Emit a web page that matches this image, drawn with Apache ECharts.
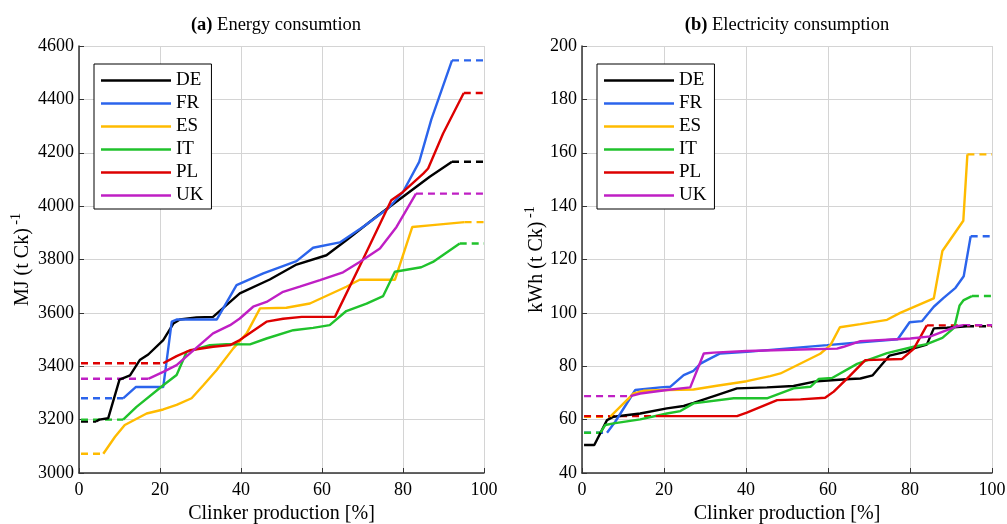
<!DOCTYPE html>
<html>
<head>
<meta charset="utf-8">
<script src="https://cdn.jsdelivr.net/npm/echarts@6/dist/echarts.min.js"></script>
<style>
  html, body { margin: 0; padding: 0; background: #fff; }
  #chart { width: 1007px; height: 524px; }
</style>
</head>
<body>
<div id="chart"></div>
<script>
// countries, in legend order
const countries = ['DE', 'FR', 'ES', 'IT', 'PL', 'UK'];
const colors = ['#000000', '#2b64ec', '#ffbb00', '#20c22c', '#dd0000', '#bf1fc4'];

// x ticks / y ticks
const xTicks = [0, 20, 40, 60, 80, 100];
const energyTicks = [3000, 4600, 200];
const elecTicks = [40, 200, 20];

// (a) energy consumption [MJ (t Ck)-1] vs cumulative clinker production [%]
// solid part of each curve; dashed lead/tail are drawn at the first/last value
const energyDE = [[4.2, 3193], [5, 3200], [7.2, 3205], [10, 3350], [12.6, 3366], [15, 3423], [17.1, 3444], [20.8, 3498], [23.3, 3560], [24.9, 3575], [29, 3583], [33.1, 3585], [39.7, 3673], [47.1, 3725], [53.7, 3781], [61.1, 3816], [66, 3872], [73.4, 3960], [80, 4035], [86.6, 4110], [92.1, 4166]];
const energyFR = [[10.9, 3280], [14, 3322], [20.8, 3322], [22.9, 3567], [24.1, 3575], [34, 3575], [38.9, 3704], [45.5, 3748], [53.7, 3794], [57.8, 3844], [64.4, 3864], [70.1, 3922], [76.3, 3991], [80, 4053], [84, 4166], [87, 4325], [92.1, 4546]];
const energyES = [[6, 3072], [8.9, 3136], [11.3, 3180], [16.7, 3223], [20.8, 3238], [24.1, 3255], [27.8, 3280], [30.7, 3329], [34, 3386], [38.1, 3467], [41.4, 3523], [44.7, 3617], [51.2, 3619], [57, 3635], [66, 3698], [69.3, 3724], [78, 3724], [82.3, 3922], [86.6, 3928], [95.2, 3940]];
const energyIT = [[10.9, 3200], [14.2, 3248], [20.8, 3329], [24.1, 3367], [26.6, 3454], [32.3, 3479], [36.4, 3483], [42.2, 3482], [46.3, 3504], [52.9, 3535], [57.8, 3544], [61.9, 3554], [66, 3607], [71, 3635], [75.1, 3663], [78, 3754], [84.5, 3771], [87.4, 3791], [94, 3860]];
const energyPL = [[20.8, 3411], [24.1, 3438], [27.4, 3460], [33.1, 3473], [37.3, 3479], [39.7, 3498], [46.3, 3567], [50.4, 3578], [55, 3585], [63.2, 3585], [70.1, 3800], [77.1, 4022], [80, 4053], [85, 4122], [86.2, 4141], [89.9, 4272], [95, 4424]];
const energyUK = [[17.1, 3353], [20.8, 3379], [24.1, 3404], [27.4, 3448], [33.1, 3523], [37.3, 3554], [39.7, 3579], [43, 3623], [46.3, 3641], [50.4, 3679], [54.5, 3698], [59.5, 3723], [65.2, 3752], [69.3, 3791], [74.3, 3841], [78.4, 3922], [83.2, 4047]];

// (b) electricity consumption [kWh (t Ck)-1]
const elecDE = [[0.5, 50.5], [3, 50.5], [6.1, 59.8], [7.7, 61.1], [14.2, 62.3], [20.7, 64.2], [24.8, 65.1], [27.2, 66.3], [32.9, 69.2], [37.8, 71.7], [45.1, 72.1], [51.6, 72.6], [57.3, 74.4], [65.4, 75.2], [67.9, 75.4], [70.9, 76.6], [75, 84], [78.9, 85.4], [80.9, 86.7], [84.1, 88.1], [85.8, 94.2], [89, 94.4], [93.9, 95]];
const elecFR = [[6.1, 55.1], [8.1, 59.2], [13, 71.1], [19.1, 72.1], [21.5, 72.3], [24.8, 76.7], [27.2, 78.3], [28.9, 81], [30.5, 82.3], [33.7, 84.8], [40.2, 85.4], [59.8, 87.9], [69.5, 89.2], [77, 90.1], [79.9, 96.5], [82.9, 96.9], [85.8, 102.3], [88.2, 105.6], [91.1, 109.4], [93.1, 113.7], [94.8, 128.7]];
const elecES = [[6.9, 61.1], [12.6, 69.8], [15, 70.8], [20.7, 71.1], [27.2, 71.3], [32.9, 72.7], [40.2, 74.4], [45.9, 76.3], [48.4, 77.3], [58.1, 84.7], [60.6, 87.9], [62.9, 94.6], [67.9, 95.8], [74.4, 97.4], [77.6, 100], [85.8, 105.4], [87.9, 123.2], [93, 134.5], [94, 159.4]];
const elecIT = [[4.5, 55.1], [5.7, 58], [7.7, 58.6], [14.2, 60.1], [20.7, 62.3], [24, 63.2], [27.2, 66.1], [37, 68], [45.1, 68], [51.6, 71.7], [55.7, 72.3], [57.7, 75.2], [61, 75.6], [67.1, 80.9], [74.4, 84.9], [80.9, 87.3], [84.1, 88.3], [87.9, 90.6], [90.8, 94.5], [92.1, 102.8], [93.1, 104.8], [95.1, 106.3]];
const elecPL = [[18, 61.3], [37.8, 61.3], [40.2, 62.6], [47.6, 67.3], [53.3, 67.6], [59.3, 68.2], [61.4, 70.5], [65.2, 76.2], [69.1, 82.3], [78, 82.7], [80.9, 86.5], [84.1, 95.3]];
const elecUK = [[11.8, 68.8], [14.2, 69.8], [20.7, 71.1], [26.4, 72.1], [29.7, 84.8], [32.1, 85.1], [40.2, 85.7], [53.3, 86.3], [62.2, 86.6], [63.8, 87.3], [67.9, 89.4], [80.1, 90.4], [85, 91.2], [89, 93.5], [91.5, 95], [93, 95.4]];

const energyData = [energyDE, energyFR, energyES, energyIT, energyPL, energyUK];
const elecData = [elecDE, elecFR, elecES, elecIT, elecPL, elecUK];

const serif = "'Liberation Serif', 'DejaVu Serif', serif";
const axisColor = '#333';

// build the solid + dashed series of one panel
function panelSeries(data, idx) {
  const out = [];
  data.forEach((pts, i) => {
    const first = pts[0];
    const last = pts[pts.length - 1];
    out.push({
      name: countries[i], type: 'line', xAxisIndex: idx, yAxisIndex: idx,
      data: pts, showSymbol: false, symbol: 'none',
      lineStyle: { color: colors[i], width: 2.4 },
      itemStyle: { color: colors[i] }, z: 3, animation: false,
    });
    [[[0.5, first[1]], first], [last, [100, last[1]]]].forEach((seg) => {
      if (seg[0][0] >= seg[1][0]) return;
      out.push({
        name: countries[i] + '_d', type: 'line', xAxisIndex: idx, yAxisIndex: idx,
        data: seg, showSymbol: false, symbol: 'none',
        lineStyle: { color: colors[i], width: 2.4, type: [7, 5] }, z: 2, animation: false,
      });
    });
  });
  return out;
}

function xAxis(idx) {
  return {
    type: 'value', gridIndex: idx, min: xTicks[0], max: xTicks[xTicks.length - 1], interval: 20,
    name: 'Clinker production [%]', nameLocation: 'middle', nameGap: 30,
    nameTextStyle: { fontFamily: serif, fontSize: 20, color: '#000' },
    axisLine: { show: true, onZero: false, lineStyle: { color: axisColor, width: 1.5 } },
    axisTick: { show: true, inside: true, length: 5, lineStyle: { color: axisColor } },
    axisLabel: { fontFamily: serif, fontSize: 18, color: '#000', margin: 8, showMaxLabel: true },
    splitLine: { show: true, lineStyle: { color: '#d4d4d4', width: 1 } },
  };
}

function yAxis(idx, ticks, unit, gap) {
  return {
    type: 'value', gridIndex: idx, min: ticks[0], max: ticks[1], interval: ticks[2],
    name: '{m|' + unit + ' (t Ck)}{s| -1}', nameLocation: 'middle', nameRotate: 90, nameGap: gap,
    nameMoveOverlap: false,
    nameTextStyle: {
      color: '#000',
      rich: {
        m: { fontFamily: serif, fontSize: 20, color: '#000', lineHeight: 24, verticalAlign: 'bottom' },
        s: { fontFamily: serif, fontSize: 14, color: '#000', lineHeight: 24, verticalAlign: 'top' },
      },
    },
    axisLine: { show: true, lineStyle: { color: axisColor, width: 1.5 } },
    axisTick: { show: true, inside: true, length: 5, lineStyle: { color: axisColor } },
    axisLabel: {
      fontFamily: serif, fontSize: 18, color: '#000', margin: 5, showMinLabel: true, showMaxLabel: true,
      formatter: (v) => String(v),
    },
    splitLine: { show: true, lineStyle: { color: '#d4d4d4', width: 1 } },
  };
}

function legend(left) {
  return {
    data: countries, left: left, top: 64, orient: 'vertical',
    itemWidth: 70, itemHeight: 14, itemGap: 4,
    icon: 'path://M0,0H70V2.5H0Z',
    padding: [7, 8, 4, 7], borderColor: '#000', borderWidth: 1, backgroundColor: '#fff',
    textStyle: { fontFamily: serif, fontSize: 19, color: '#000' },
    selectedMode: false,
  };
}

const chart = echarts.init(document.getElementById('chart'), null, { renderer: 'canvas' });
chart.setOption({
  animation: false,
  backgroundColor: '#fff',
  title: [
    {
      text: '{b|(a)} Energy consumtion', left: 271, top: 11, textAlign: 'center',
      textStyle: { fontFamily: serif, fontSize: 18.5, fontWeight: 'normal', color: '#000',
        rich: { b: { fontFamily: serif, fontSize: 18.5, fontWeight: 'bold', color: '#000' } } },
    },
    {
      text: '{b|(b)} Electricity consumption', left: 782, top: 11, textAlign: 'center',
      textStyle: { fontFamily: serif, fontSize: 18.5, fontWeight: 'normal', color: '#000',
        rich: { b: { fontFamily: serif, fontSize: 18.5, fontWeight: 'bold', color: '#000' } } },
    },
  ],
  legend: [legend(94), legend(597)],
  grid: [
    { left: 79, top: 46, width: 405, height: 427, outerBoundsMode: 'none' },
    { left: 582, top: 46, width: 410, height: 427, outerBoundsMode: 'none' },
  ],
  xAxis: [xAxis(0), xAxis(1)],
  yAxis: [yAxis(0, energyTicks, 'MJ', 46), yAxis(1, elecTicks, 'kWh', 35)],
  series: panelSeries(energyData, 0).concat(panelSeries(elecData, 1)),
});
</script>
</body>
</html>
